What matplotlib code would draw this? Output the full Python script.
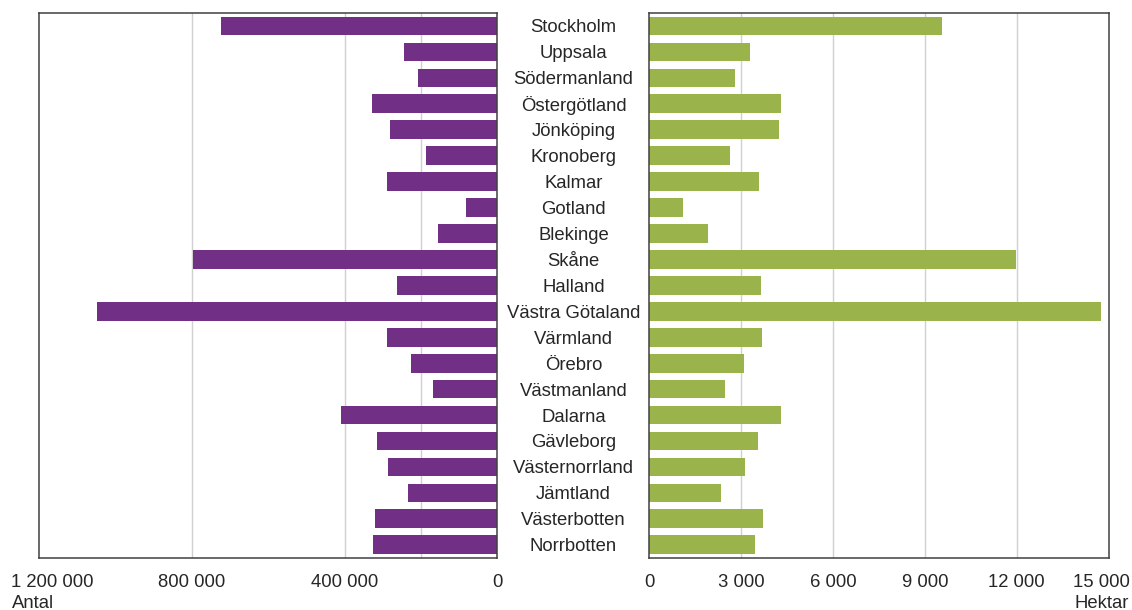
import matplotlib
matplotlib.use("Agg")
import matplotlib.pyplot as plt
from matplotlib.transforms import ScaledTranslation

plt.rcParams['font.family'] = ['Liberation Sans', 'DejaVu Sans']

regions = ["Stockholm", "Uppsala", "Södermanland", "Östergötland", "Jönköping",
           "Kronoberg", "Kalmar", "Gotland", "Blekinge", "Skåne", "Halland",
           "Västra Götaland", "Värmland", "Örebro", "Västmanland", "Dalarna",
           "Gävleborg", "Västernorrland", "Jämtland", "Västerbotten", "Norrbotten"]

antal = [723000, 245000, 208000, 328000, 281000, 187000, 289000, 82000, 156000,
         797000, 263000, 1047000, 289000, 226000, 169000, 409000, 315000, 287000,
         234000, 320000, 326000]

hektar = [9560, 3290, 2800, 4300, 4230, 2635, 3590, 1100, 1920, 11980, 3650,
          14760, 3680, 3090, 2470, 4300, 3550, 3120, 2340, 3710, 3460]

left_ticks = [1200000, 800000, 400000, 0]
left_ticklabels = ["1 200 000", "800 000", "400 000", "0"]
left_grid = [800000, 400000, 200000]
right_ticks = [0, 3000, 6000, 9000, 12000, 15000]
right_ticklabels = ["0", "3 000", "6 000", "9 000", "12 000", "15 000"]

purple = "#713085"
green = "#9BB34B"
spine_c = "#404040"
grid_c = "#D0D0D0"
txt_c = "#262626"
fs = 13.3

W, H = 1132, 610
fig = plt.figure(figsize=(W / 100, H / 100), dpi=100)

top_px, bot_px = 13, 557.7
axL = fig.add_axes([38.6 / W, 1 - bot_px / H, (497.5 - 38.6) / W, (bot_px - top_px) / H])
axR = fig.add_axes([649.4 / W, 1 - bot_px / H, (1108.5 - 649.4) / W, (bot_px - top_px) / H])

y = list(range(len(regions)))

axL.barh(y, antal, height=0.72, color=purple, zorder=3)
axL.set_xlim(1200000, 0)
axL.set_ylim(len(regions) - 0.5, -0.5)
for g in left_grid:
    axL.axvline(g, color=grid_c, lw=1.0, zorder=1)
axL.set_xticks(left_ticks)
axL.set_xticklabels(left_ticklabels)
axL.set_yticks([])

axR.barh(y, hektar, height=0.72, color=green, zorder=3)
axR.set_xlim(0, 15000)
axR.set_ylim(len(regions) - 0.5, -0.5)
for g in right_ticks[1:-1]:
    axR.axvline(g, color=grid_c, lw=1.0, zorder=1)
axR.set_xticks(right_ticks)
axR.set_xticklabels(right_ticklabels)
axR.set_yticks([])

for ax in (axL, axR):
    ax.tick_params(axis='x', length=0, pad=12, labelsize=fs, labelcolor=txt_c)
    for s in ax.spines.values():
        s.set_color(spine_c)
        s.set_linewidth(1.1)
        s.set_zorder(4)

# shift outer tick labels inward as in reference
lab = axL.get_xticklabels()[0]
lab.set_transform(lab.get_transform() + ScaledTranslation(14 / 100, 0, fig.dpi_scale_trans))
lab = axR.get_xticklabels()[-1]
lab.set_transform(lab.get_transform() + ScaledTranslation(-7 / 100, 0, fig.dpi_scale_trans))

# category labels in the middle
for i, name in enumerate(regions):
    yc = top_px + (i + 0.5) * (bot_px - top_px) / len(regions)
    fig.text(573.5 / W, 1 - yc / H, name, ha='center', va='center_baseline',
             fontsize=fs, color=txt_c)

fig.text(12 / W, 1 - 603 / H, "Antal", ha='left', va='center', fontsize=fs, color=txt_c)
fig.text(1129 / W, 1 - 603 / H, "Hektar", ha='right', va='center', fontsize=fs, color=txt_c)

fig.savefig("out.png", dpi=100)
